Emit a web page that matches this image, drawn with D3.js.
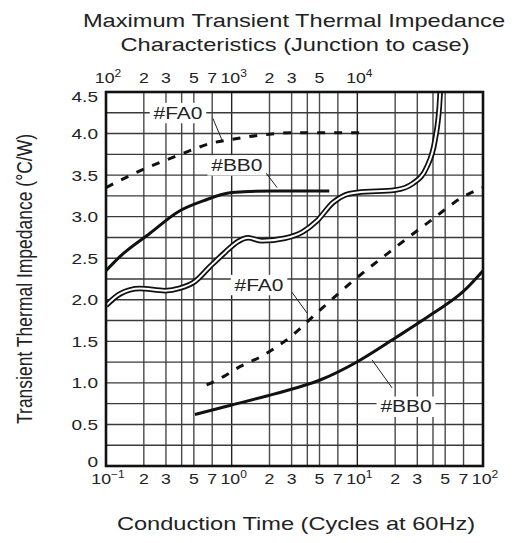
<!DOCTYPE html>
<html>
<head>
<meta charset="utf-8">
<script src="https://cdn.jsdelivr.net/npm/d3@7"></script>
<style>
body { margin: 0; background: #fff; }
text { font-family: "Liberation Sans", Arial, sans-serif; fill: #222; }
</style>
</head>
<body>
<script>
// tick values
const bottomTicks = [0.1, 0.2, 0.3, 0.5, 0.7, 1, 2, 3, 5, 7, 10, 20, 30, 50, 70, 100];
const topTicks = [100, 200, 300, 500, 700, 1000, 2000, 3000, 5000, 10000];
const yTicks = [0, 0.5, 1, 1.5, 2, 2.5, 3, 3.5, 4, 4.5];

// [cycles, °C/W]; "Low" on the bottom axis, "High" on the top axis
const bb0Low = [[0.51, 0.62], [1, 0.734], [1.9, 0.842], [3.5, 0.954], [5.05, 1.035], [10, 1.255],
  [20, 1.54], [40.3, 1.84], [69.7, 2.10], [100, 2.35]];
const fa0Low = [[0.632, 0.975], [0.86, 1.075], [1.16, 1.195], [1.68, 1.31], [3.0, 1.565], [4.75, 1.84],
  [10.2, 2.28], [18.2, 2.58], [38.9, 2.96], [69.7, 3.24], [100, 3.35]];
const fa0High = [[100, 3.35], [192, 3.56], [365, 3.73], [714, 3.89], [1000, 3.93], [1900, 3.99],
  [3100, 4.01], [11500, 4.01]];
const bb0High = [[100, 2.35], [129, 2.52], [224, 2.80], [376, 3.06], [594, 3.19], [1000, 3.29],
  [2140, 3.31], [5980, 3.31]];
// double line curve (bottom axis)
const doubleCurve = [[0.1, 1.93], [0.129, 2.07], [0.186, 2.135], [0.295, 2.11], [0.388, 2.14],
  [0.51, 2.22], [0.673, 2.40], [0.885, 2.57], [1.12, 2.70], [1.35, 2.745], [1.74, 2.71],
  [2.65, 2.74], [3.7, 2.82], [4.78, 2.95], [6.4, 3.17], [7.98, 3.26], [10, 3.29], [20, 3.32],
  [27.7, 3.40], [35.8, 3.60], [41.5, 3.92], [44.9, 4.32], [46.3, 4.65]];

// labels: text position and leader line, in bottom-axis data units
const notes = [
  {label: "#FA0", at: [0.374, 4.25], from: [0.71, 4.18], to: [0.838, 3.92]},
  {label: "#BB0", at: [1.10, 3.62], from: [1.74, 3.59], to: [2.30, 3.35]},
  {label: "#FA0", at: [1.65, 2.18], from: [3.02, 2.09], to: [3.98, 1.84]},
  {label: "#BB0", at: [24.4, 0.716], from: [18.9, 0.94], to: [13.1, 1.276]}
];

const W = 518, H = 543;
const pLeft = 106, pRight = 483, pTop = 92, pBottom = 466;
const sx = 1.27; // the picture is stretched sideways

const svg = d3.select("body").append("svg").attr("width", W).attr("height", H);

const x = d3.scaleLog().domain([0.1, 100]).range([pLeft, pRight]);
const xTop = d3.scaleLog().domain([100, 1e5]).range([pLeft, pRight]);
const y = d3.scaleLinear().domain([0, 4.5]).range([pBottom, pTop]);

function addText(parent, px, py, size, anchor, stretch) {
  return parent.append("text")
    .attr("transform", "translate(" + px + "," + py + ") scale(" + (stretch || sx) + ",1)")
    .attr("font-size", size)
    .attr("text-anchor", anchor || "middle");
}

// title
addText(svg, 294, 27, 18.6).text("Maximum Transient Thermal Impedance");
addText(svg, 295, 51, 18.6).text("Characteristics (Junction to case)");

// grid
const gridX = [];
[0.1, 1, 10].forEach(d => [1, 2, 3, 4, 5, 7].forEach(m => gridX.push(d * m)));
gridX.push(100);
svg.append("g").selectAll("line").data(gridX).enter().append("line")
  .attr("x1", d => x(d)).attr("x2", d => x(d))
  .attr("y1", pTop).attr("y2", pBottom)
  .attr("stroke", d => Math.abs(Math.log10(d) % 1) < 1e-6 ? "#222" : "#4a4a4a")
  .attr("stroke-width", 1.4);
svg.append("g").selectAll("line").data(d3.range(0, 4.51, 0.25)).enter().append("line")
  .attr("x1", pLeft).attr("x2", pRight)
  .attr("y1", d => y(d)).attr("y2", d => y(d))
  .attr("stroke", "#3a3a3a").attr("stroke-width", 1.4);

// curves
svg.append("clipPath").attr("id", "plot").append("rect")
  .attr("x", pLeft).attr("y", pTop).attr("width", pRight - pLeft).attr("height", pBottom - pTop);
const plot = svg.append("g").attr("clip-path", "url(#plot)");

const lineLow = d3.line().x(d => x(d[0])).y(d => y(d[1])).curve(d3.curveMonotoneX);
const lineHigh = d3.line().x(d => xTop(d[0])).y(d => y(d[1])).curve(d3.curveMonotoneX);

plot.append("path").attr("d", lineLow(doubleCurve))
  .attr("fill", "none").attr("stroke", "#111").attr("stroke-width", 5.5);
plot.append("path").attr("d", lineLow(doubleCurve))
  .attr("fill", "none").attr("stroke", "#fff").attr("stroke-width", 2);

plot.append("path").attr("d", lineLow(bb0Low))
  .attr("fill", "none").attr("stroke", "#111").attr("stroke-width", 3);
plot.append("path").attr("d", lineHigh(bb0High))
  .attr("fill", "none").attr("stroke", "#111").attr("stroke-width", 3);
plot.append("path").attr("d", lineLow(fa0Low))
  .attr("fill", "none").attr("stroke", "#111").attr("stroke-width", 3)
  .attr("stroke-dasharray", "8,9");
plot.append("path").attr("d", lineHigh(fa0High))
  .attr("fill", "none").attr("stroke", "#111").attr("stroke-width", 3)
  .attr("stroke-dasharray", "8,9");

// notes
notes.forEach(n => {
  svg.append("line")
    .attr("x1", x(n.from[0])).attr("y1", y(n.from[1]))
    .attr("x2", x(n.to[0])).attr("y2", y(n.to[1]))
    .attr("stroke", "#222").attr("stroke-width", 1);
  const g = svg.append("g")
    .attr("transform", "translate(" + x(n.at[0]) + "," + y(n.at[1]) + ") scale(" + sx + ",1)");
  const r = g.append("rect").attr("fill", "#fff");
  const t = g.append("text").attr("font-size", 16.5).attr("text-anchor", "middle")
    .attr("dy", "0.36em").text(n.label);
  const b = t.node().getBBox();
  r.attr("x", b.x - 3).attr("y", b.y - 1).attr("width", b.width + 6).attr("height", b.height + 2);
});

// frame
svg.append("rect").attr("x", pLeft).attr("y", pTop)
  .attr("width", pRight - pLeft).attr("height", pBottom - pTop)
  .attr("fill", "none").attr("stroke", "#111").attr("stroke-width", 2.6);

// tick labels
function powLabel(t, d) {
  const lg = Math.log10(d);
  const e = Math.round(lg);
  if (Math.abs(lg - e) < 1e-6) {
    t.append("tspan").text("10");
    t.append("tspan").attr("font-size", "0.68em").attr("dy", "-0.55em")
      .text(e < 0 ? "\u2212" + (-e) : e);
  } else {
    t.text(Math.round(d / Math.pow(10, Math.floor(lg + 1e-9))));
  }
}
const tickStretch = 1.18;
bottomTicks.forEach(d => {
  const isPow = Math.abs(Math.log10(d) % 1) < 1e-6;
  powLabel(addText(svg, x(d) + (isPow ? 2 : 0), 484, 15, "middle", tickStretch), d);
});
topTicks.forEach(d => {
  const isPow = Math.abs(Math.log10(d) % 1) < 1e-6;
  powLabel(addText(svg, xTop(d) + (isPow ? 2 : 0), 83, 15, "middle", tickStretch), d);
});

yTicks.forEach(d => {
  const shift = d === 4.5 ? 5 : (d === 0 ? -4 : 0);
  addText(svg, 98, y(d) + shift, 15, "end").attr("dy", "0.36em")
    .text(d === 0 ? "0" : d3.format(".1f")(d));
});

// axis titles
addText(svg, 296, 530, 18.6).text("Conduction Time (Cycles at 60Hz)");
svg.append("text")
  .attr("transform", "translate(31.5," + ((pTop + pBottom) / 2) + ") scale(" + sx + ",1) rotate(-90)")
  .attr("font-size", 17.5).attr("text-anchor", "middle")
  .text("Transient Thermal Impedance  (\u00b0C/W)");
</script>
</body>
</html>
